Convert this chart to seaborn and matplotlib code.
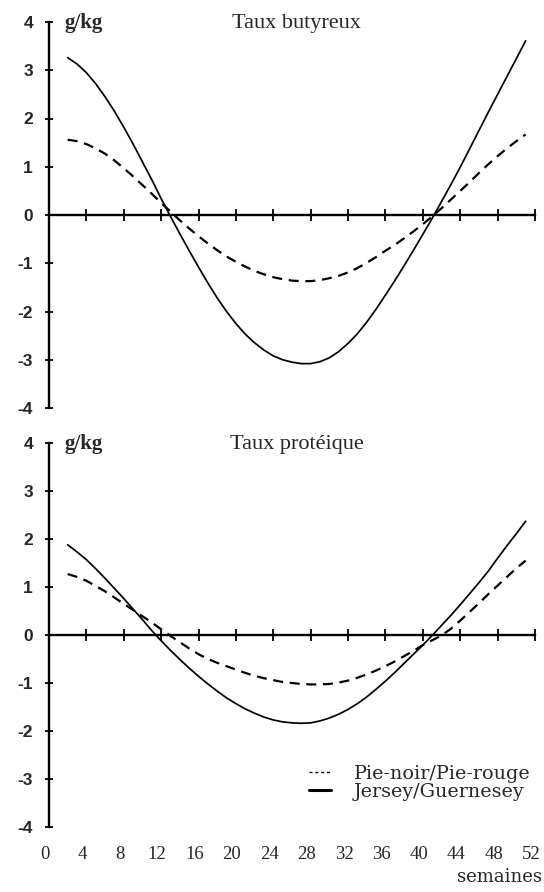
import matplotlib
matplotlib.use("Agg")
import matplotlib.pyplot as plt
import pandas as pd
import seaborn as sns
from matplotlib.lines import Line2D
from matplotlib.transforms import ScaledTranslation

# Weeks sampled along each curve
weeks = list(range(2, 52))

# Seasonal deviation of fat content (g/kg)
tb_pie = [1.56, 1.53, 1.47, 1.38, 1.27, 1.13, 0.97, 0.80, 0.62, 0.44,
          0.25, 0.07, -0.11, -0.28, -0.44, -0.59, -0.73, -0.86, -0.97, -1.07,
          -1.16, -1.23, -1.29, -1.33, -1.36, -1.37, -1.37, -1.35, -1.31, -1.26,
          -1.19, -1.10, -0.99, -0.87, -0.74, -0.62, -0.48, -0.34, -0.19, -0.03,
          0.14, 0.32, 0.50, 0.68, 0.87, 1.05, 1.22, 1.38, 1.53, 1.67]
tb_jersey = [3.26, 3.13, 2.95, 2.72, 2.45, 2.15, 1.82, 1.47, 1.10, 0.73,
             0.34, -0.03, -0.39, -0.74, -1.08, -1.41, -1.72, -2.00, -2.25, -2.47,
             -2.65, -2.80, -2.92, -3.00, -3.05, -3.08, -3.08, -3.04, -2.96, -2.83,
             -2.66, -2.46, -2.22, -1.95, -1.66, -1.36, -1.05, -0.73, -0.40, -0.07,
             0.28, 0.63, 0.99, 1.37, 1.75, 2.13, 2.50, 2.87, 3.24, 3.61]

# Seasonal deviation of protein content (g/kg)
tp_pie = [1.27, 1.21, 1.13, 1.02, 0.91, 0.78, 0.65, 0.52, 0.39, 0.26,
          0.12, -0.02, -0.15, -0.28, -0.40, -0.50, -0.58, -0.65, -0.72, -0.79,
          -0.85, -0.90, -0.94, -0.98, -1.00, -1.02, -1.03, -1.03, -1.02, -0.99,
          -0.95, -0.89, -0.82, -0.74, -0.65, -0.55, -0.44, -0.33, -0.21, -0.11,
          -0.01, 0.13, 0.30, 0.48, 0.66, 0.85, 1.03, 1.21, 1.39, 1.55]
tp_jersey = [1.88, 1.73, 1.57, 1.38, 1.18, 0.97, 0.76, 0.54, 0.32, 0.09,
             -0.12, -0.32, -0.51, -0.69, -0.86, -1.02, -1.17, -1.31, -1.43, -1.54,
             -1.63, -1.71, -1.77, -1.81, -1.83, -1.84, -1.83, -1.79, -1.73, -1.65,
             -1.55, -1.43, -1.29, -1.13, -0.96, -0.78, -0.59, -0.40, -0.21, -0.01,
             0.20, 0.41, 0.63, 0.86, 1.09, 1.33, 1.60, 1.86, 2.11, 2.37]

breeds = ["Pie-noir/Pie-rouge", "Jersey/Guernesey"]
panel_titles = ["Taux butyreux", "Taux protéique"]
unit_label = "g/kg"
x_label = "semaines"
week_ticks = list(range(0, 53, 4))
y_ticks = [-4, -3, -2, -1, 0, 1, 2, 3, 4]


def long_table(pie, jersey):
    return pd.DataFrame({
        "semaine": weeks + weeks,
        "valeur": pie + jersey,
        "race": [breeds[0]] * len(weeks) + [breeds[1]] * len(weeks),
    })


sns.set_theme(style="white")
plt.rcParams["font.family"] = ["Liberation Serif", "DejaVu Serif"]

W, H = 544, 892
fig = plt.figure(figsize=(W / 100, H / 100), dpi=100)
ax_top = fig.add_axes([49 / W, 1 - 408 / H, 486 / W, (408 - 22) / H])
ax_bot = fig.add_axes([49 / W, 1 - 827 / H, 486 / W, (827 - 443) / H])

panels = [
    (ax_top, long_table(tb_pie, tb_jersey), panel_titles[0]),
    (ax_bot, long_table(tp_pie, tp_jersey), panel_titles[1]),
]

for ax, df, title in panels:
    sns.lineplot(
        data=df, x="semaine", y="valeur", hue="race", style="race",
        hue_order=breeds, style_order=breeds,
        palette={breeds[0]: "black", breeds[1]: "black"},
        dashes={breeds[0]: (4.5, 3.0), breeds[1]: ""},
        estimator=None, sort=False, legend=False, ax=ax,
    )
    ax.lines[0].set_linewidth(1.6)
    ax.lines[1].set_linewidth(1.25)

    ax.set_xlim(0, 52)
    ax.set_ylim(-4, 4)
    ax.set_xlabel("")
    ax.set_ylabel("")
    ax.patch.set_alpha(0)

    for side in ("top", "right"):
        ax.spines[side].set_visible(False)
    ax.spines["bottom"].set_position(("data", 0))
    for side in ("left", "bottom"):
        ax.spines[side].set_color("black")
        ax.spines[side].set_linewidth(1.7)

    ax.set_xticks(week_ticks)
    ax.tick_params(axis="x", direction="inout", length=8, width=1.3,
                   color="black", labelbottom=False, bottom=True)
    ax.set_yticks(y_ticks, labels=[str(v) for v in y_ticks])
    ax.tick_params(axis="y", direction="inout", length=6, width=1.3,
                   color="black", left=True, pad=8.5)
    for lab in ax.get_yticklabels():
        lab.set_fontfamily("Liberation Sans")
        lab.set_fontweight("bold")
        lab.set_fontsize(12.5)

    ax.text(1.7, 3.88, unit_label, ha="left", va="baseline",
            fontsize=15, fontweight="bold")
    ax.text(26.5, 3.88, title, ha="center", va="baseline", fontsize=16)

# Week labels sit under the lower panel, away from the zero line
sec = ax_bot.secondary_xaxis("bottom")
sec.set_xticks(week_ticks, labels=[str(w) for w in week_ticks])
sec.tick_params(length=0, pad=13.5, labelsize=13.5)
sec.spines["bottom"].set_visible(False)
nudge = ScaledTranslation(-4 / 100, 0, fig.dpi_scale_trans)
for lab in sec.get_xticklabels():
    lab.set_transform(lab.get_transform() + nudge)

fig.text(542 / W, 1 - 877 / H, x_label, ha="right", va="center",
         fontsize=13, fontfamily="DejaVu Serif")

handles = [
    Line2D([], [], color="black", lw=1.0, ls=(0, (2.2, 2.0))),
    Line2D([], [], color="black", lw=2.2),
]
fig.legend(handles, breeds, loc="upper left",
           bbox_to_anchor=(309 / W, 1 - 765 / H),
           frameon=False, borderpad=0, borderaxespad=0,
           handlelength=1.15, handletextpad=1.2, labelspacing=0.0,
           prop={"family": "DejaVu Serif", "size": 13.8})

fig.savefig("out.png", dpi=100)
